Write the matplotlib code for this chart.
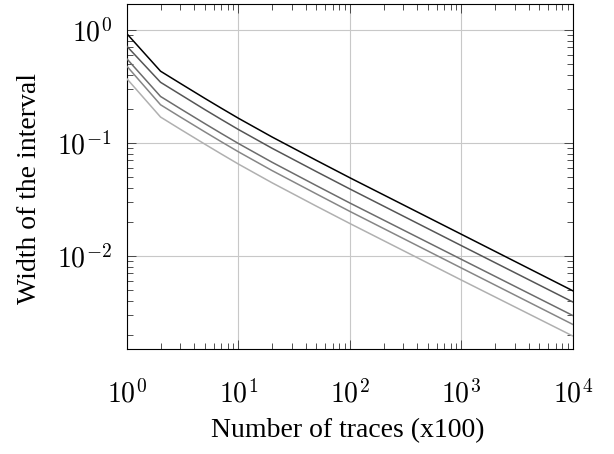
import matplotlib
matplotlib.use("Agg")
import matplotlib.pyplot as plt
import numpy as np
from matplotlib.ticker import LogLocator, NullFormatter, FuncFormatter

# datos
traces = [1, 2, 3, 5, 7, 10, 20, 50, 100, 1000, 10000]
width_1 = [0.92, 0.43, 0.336, 0.247, 0.2026, 0.1648, 0.1126, 0.0699, 0.0490, 0.0155, 0.0049]
width_2 = [0.713, 0.343, 0.268, 0.1965, 0.1611, 0.131, 0.0895, 0.0556, 0.039, 0.0123, 0.0039]
width_3 = [0.552, 0.257, 0.2007, 0.1477, 0.1211, 0.0985, 0.0673, 0.0418, 0.0293, 0.0093, 0.00296]
width_4 = [0.475, 0.217, 0.1695, 0.1248, 0.1023, 0.0832, 0.0568, 0.0353, 0.0247, 0.0078, 0.00247]
width_5 = [0.368, 0.169, 0.132, 0.0972, 0.0797, 0.0648, 0.0443, 0.0275, 0.0193, 0.0061, 0.00195]

series = [width_1, width_2, width_3, width_4, width_5]
colores = ["#000000", "#555555", "#6c6c6c", "#868686", "#b0b0b0"]

plt.rcParams["font.family"] = ["Liberation Serif", "DejaVu Serif"]
plt.rcParams["mathtext.fontset"] = "cm"

fig = plt.figure(figsize=(6.14, 4.54), dpi=100)
ax = fig.add_axes([0.2068, 0.2313, 0.7264, 0.7599])

for ys, c in zip(series, colores):
    ax.plot(traces, ys, color=c, lw=1.1, zorder=3)

ax.set_xscale("log")
ax.set_yscale("log")
ax.set_xlim(1, 1e4)
ax.set_ylim(0.0015, 1.69)

# etiquetas 10^n en fuente matematica
fmt_pot = FuncFormatter(lambda v, p: r"$10^{%d}$" % int(round(np.log10(v))))

ax.xaxis.set_major_locator(LogLocator(base=10, numticks=10))
ax.yaxis.set_major_locator(LogLocator(base=10, numticks=10))
ax.xaxis.set_major_formatter(fmt_pot)
ax.yaxis.set_major_formatter(fmt_pot)
ax.xaxis.set_minor_locator(LogLocator(base=10, subs=range(2, 10), numticks=20))
ax.yaxis.set_minor_locator(LogLocator(base=10, subs=range(2, 10), numticks=20))
ax.xaxis.set_minor_formatter(NullFormatter())
ax.yaxis.set_minor_formatter(NullFormatter())

ax.grid(True, which="major", color="#c8c8c8", lw=0.8, zorder=0)
ax.tick_params(which="both", direction="in", top=True, right=True,
               labelsize=20, color="#333333", width=0.6)
ax.tick_params(which="major", length=6.5)
ax.tick_params(axis="x", which="major", pad=22)
ax.tick_params(axis="y", which="major", pad=11)
ax.tick_params(which="minor", length=4.3)
for s in ax.spines.values():
    s.set_linewidth(0.8)

ax.set_xlabel("Number of traces (x100)", fontsize=20)
ax.set_ylabel("Width of the interval", fontsize=20)
ax.xaxis.set_label_coords(0.494, -0.2)
ax.yaxis.set_label_coords(-0.19, 0.465)

fig.savefig("out.png", dpi=100)
